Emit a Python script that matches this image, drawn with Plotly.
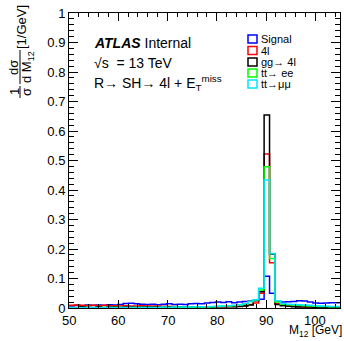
import numpy as np
import plotly.graph_objects as go

# ---------------- data ----------------
bin_lo, bin_hi, n_bins = 50.0, 105.0, 50
edges = list(np.linspace(bin_lo, bin_hi, n_bins + 1))

signal = [0.008, 0.009, 0.008, 0.010, 0.009, 0.010, 0.009, 0.011, 0.010, 0.012,
          0.015, 0.016, 0.014, 0.013, 0.012, 0.013, 0.011, 0.013, 0.014, 0.012,
          0.013, 0.012, 0.014, 0.015, 0.014, 0.017, 0.019, 0.020, 0.019, 0.021,
          0.018, 0.020, 0.022, 0.024, 0.026, 0.030, 0.108, 0.050, 0.025, 0.020,
          0.021, 0.022, 0.025, 0.024, 0.020, 0.017, 0.016, 0.017, 0.018, 0.018]
four_l = [0.009, 0.010, 0.009, 0.008, 0.009, 0.008, 0.009, 0.008, 0.008, 0.007,
          0.008, 0.007, 0.007, 0.008, 0.007, 0.007, 0.006, 0.006, 0.005, 0.005,
          0.004, 0.004, 0.004, 0.003, 0.004, 0.003, 0.003, 0.004, 0.004, 0.005,
          0.005, 0.006, 0.008, 0.012, 0.017, 0.050, 0.522, 0.153, 0.015, 0.010,
          0.008, 0.006, 0.005, 0.004, 0.003, 0.003, 0.002, 0.002, 0.002, 0.002]
gg_4l = [0.002, 0.002, 0.003, 0.002, 0.002, 0.003, 0.002, 0.003, 0.003, 0.002,
         0.003, 0.003, 0.002, 0.003, 0.003, 0.003, 0.002, 0.003, 0.003, 0.003,
         0.003, 0.003, 0.004, 0.003, 0.003, 0.004, 0.003, 0.004, 0.004, 0.004,
         0.004, 0.005, 0.007, 0.010, 0.025, 0.055, 0.654, 0.183, 0.012, 0.008,
         0.006, 0.004, 0.003, 0.003, 0.003, 0.002, 0.002, 0.002, 0.002, 0.002]
tt_ee = [0.001, 0.001, 0.001, 0.002, 0.001, 0.001, 0.002, 0.001, 0.002, 0.002,
         0.001, 0.002, 0.002, 0.002, 0.002, 0.002, 0.002, 0.002, 0.002, 0.003,
         0.002, 0.003, 0.003, 0.003, 0.003, 0.003, 0.004, 0.005, 0.006, 0.007,
         0.008, 0.010, 0.013, 0.022, 0.027, 0.061, 0.479, 0.168, 0.020, 0.013,
         0.011, 0.010, 0.009, 0.008, 0.007, 0.006, 0.005, 0.005, 0.004, 0.004]
tt_mumu = [0.001, 0.001, 0.001, 0.001, 0.002, 0.001, 0.001, 0.002, 0.001, 0.002,
           0.002, 0.002, 0.001, 0.002, 0.002, 0.002, 0.002, 0.003, 0.002, 0.003,
           0.003, 0.003, 0.003, 0.004, 0.004, 0.004, 0.005, 0.006, 0.007, 0.008,
           0.009, 0.011, 0.014, 0.022, 0.028, 0.067, 0.434, 0.185, 0.025, 0.015,
           0.013, 0.012, 0.011, 0.010, 0.009, 0.008, 0.007, 0.006, 0.005, 0.005]

series_names = ["Signal", "4l", "gg\u2192 4l", "tt\u2192 ee", "tt\u2192\u03bc\u03bc"]
series_values = [signal, four_l, gg_4l, tt_ee, tt_mumu]
series_colors = ["#0000ff", "#ff0000", "#000000", "#00ff00", "#00e5ff"]

x_ticks = [50, 60, 70, 80, 90, 100]
x_tick_text = ["50", "60", "70", "80", "90", "100"]
y_ticks = [0, 0.1, 0.2, 0.3, 0.4, 0.5, 0.6, 0.7, 0.8, 0.9, 1]
y_tick_text = ["0", "0.1", "0.2", "0.3", "0.4", "0.5", "0.6", "0.7", "0.8", "0.9", "1"]

# ---------------- figure ----------------
W, H = 344, 341
ML, MR, MT, MB = 69, 4, 13, 33
PW, PH = W - ML - MR, H - MT - MB


def px(x):
    return (x - ML) / PW


def py(y):
    return (H - MB - y) / PH


def data_to_px(v):
    return ML + (v - bin_lo) / (bin_hi - bin_lo) * PW


FONT = "Liberation Sans, Arial, Helvetica, sans-serif"

fig = go.Figure()
for name, vals, col in zip(series_names, series_values, series_colors):
    fig.add_trace(go.Scatter(
        x=edges, y=list(vals) + [vals[-1]],
        mode="lines", line=dict(color=col, width=1.5, shape="hv"),
        name=name, showlegend=False, hoverinfo="skip"))

axis_common = dict(
    showgrid=False, zeroline=False, showline=True, linecolor="black",
    linewidth=1, mirror="ticks", ticks="inside", tickcolor="black",
    tickwidth=1, tickfont=dict(family=FONT, size=13, color="black"),
)
fig.update_xaxes(range=[bin_lo, bin_hi], tickvals=x_ticks, ticklen=8,
                 showticklabels=False,
                 minor=dict(ticks="inside", dtick=2, ticklen=4, tickcolor="black"),
                 **axis_common)
fig.update_yaxes(range=[0, 1], tickvals=y_ticks, ticktext=y_tick_text, ticklen=9,
                 minor=dict(ticks="inside", dtick=0.02, ticklen=5, tickcolor="black"),
                 **axis_common)

ann = []
# x tick labels, positioned through the axis mapping
for xv, xt in zip(x_ticks, x_tick_text):
    ann.append(dict(x=px(data_to_px(xv)), y=py(311), xref="paper", yref="paper",
                    xanchor="center", yanchor="top", text=xt, showarrow=False,
                    font=dict(family=FONT, size=13, color="black")))

# ATLAS label block
ann.append(dict(x=px(92), y=py(43), xref="paper", yref="paper", xanchor="left", yanchor="middle",
                text="<b><i>ATLAS</i></b> Internal", showarrow=False,
                font=dict(family=FONT, size=14, color="black")))
ann.append(dict(x=px(92), y=py(63), xref="paper", yref="paper", xanchor="left", yanchor="middle",
                text="\u221as  = 13 TeV", showarrow=False,
                font=dict(family=FONT, size=14, color="black")))
ann.append(dict(x=px(92), y=py(83), xref="paper", yref="paper", xanchor="left", yanchor="middle",
                text="R\u2192 SH\u2192 4l + E<sub>T</sub><sup>miss</sup>", showarrow=False,
                font=dict(family=FONT, size=14, color="black")))

# legend (manual)
leg_y = [39, 50.5, 62, 73, 84]
shapes = []
for yy, name, col in zip(leg_y, series_names, series_colors):
    shapes.append(dict(type="rect", xref="paper", yref="paper",
                       x0=px(248), x1=px(257), y0=py(yy + 4), y1=py(yy - 4),
                       line=dict(color=col, width=1.5), fillcolor="white"))
    ann.append(dict(x=px(258.5), y=py(yy), xref="paper", yref="paper", xanchor="left",
                    yanchor="middle", text=name, showarrow=False,
                    font=dict(family=FONT, size=11, color="black")))

# axis titles
ann.append(dict(x=px(344), y=py(341), xref="paper", yref="paper", xanchor="right",
                yanchor="bottom", text="M<sub>12</sub> [GeV]", showarrow=False,
                font=dict(family=FONT, size=12, color="black")))
tfont = dict(family=FONT, size=13, color="black")
ann.append(dict(x=px(14), y=py(92), xref="paper", yref="paper", xanchor="center", yanchor="middle",
                text="1", textangle=-90, showarrow=False, font=tfont))
ann.append(dict(x=px(26), y=py(92), xref="paper", yref="paper", xanchor="center", yanchor="middle",
                text="\u03c3", textangle=-90, showarrow=False, font=tfont))
ann.append(dict(x=px(14), y=py(68), xref="paper", yref="paper", xanchor="center", yanchor="middle",
                text="d\u03c3", textangle=-90, showarrow=False, font=tfont))
ann.append(dict(x=px(27), y=py(67), xref="paper", yref="paper", xanchor="center", yanchor="middle",
                text="d M<sub>12</sub>", textangle=-90, showarrow=False, font=tfont))
ann.append(dict(x=px(21), y=py(27), xref="paper", yref="paper", xanchor="center", yanchor="middle",
                text="[1/GeV]", textangle=-90, showarrow=False, font=tfont))
shapes.append(dict(type="line", xref="paper", yref="paper", x0=px(20), x1=px(20),
                   y0=py(86), y1=py(98), line=dict(color="black", width=1)))
shapes.append(dict(type="line", xref="paper", yref="paper", x0=px(20), x1=px(20),
                   y0=py(50), y1=py(84), line=dict(color="black", width=1)))

fig.update_layout(
    width=W, height=H, margin=dict(l=ML, r=MR, t=MT, b=MB, pad=0),
    paper_bgcolor="white", plot_bgcolor="white",
    annotations=ann, shapes=shapes, showlegend=False,
    font=dict(family=FONT, color="black"),
)
fig.write_html("out.html")
